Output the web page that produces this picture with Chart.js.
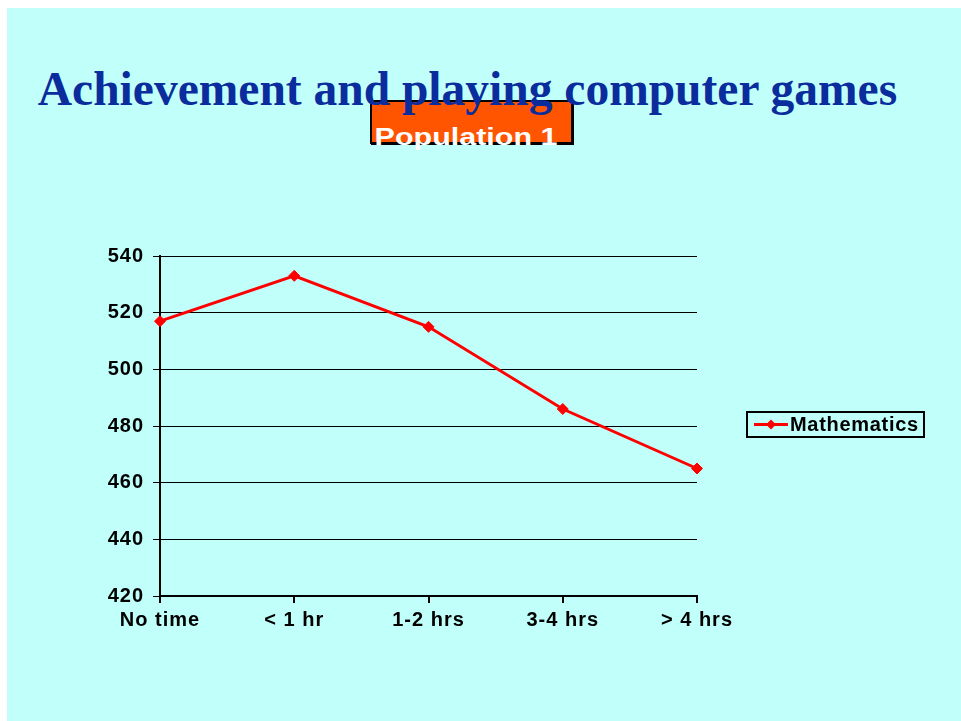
<!DOCTYPE html>
<html>
<head>
<meta charset="utf-8">
<script src="https://cdn.jsdelivr.net/npm/chart.js@4"></script>
<style>
  html, body { margin: 0; padding: 0; background: #ffffff; }
  #page { position: relative; width: 961px; height: 721px; overflow: hidden; background: #ffffff; }
  #bg { position: absolute; left: 7px; top: 8px; right: 0; bottom: 0; background: #c0fffa; }
  #box { position: absolute; left: 370px; top: 100px; width: 199px; height: 40px; background: #ff5500; border: 2px solid #000; box-shadow: 1px 1px 0 #000; }
  #title { position: absolute; left: 0; width: 935px; top: 65px; line-height: 48px; text-align: center; font-family: "Liberation Serif", "Times New Roman", serif; font-weight: bold; font-size: 47.5px; color: #0a2c9c; white-space: nowrap; }
  #sub { position: absolute; left: 366px; width: 200px; top: 125px; line-height: 24px; text-align: center; font-family: "Liberation Sans", Arial, sans-serif; font-weight: bold; font-size: 24px; color: #ffffff; white-space: nowrap; transform: scaleX(1.27); transform-origin: 50% 50%; }
  #c { position: absolute; left: 0; top: 0; }
</style>
</head>
<body>
<div id="page">
  <div id="bg"></div>
  <div id="box"></div>
  <div id="title">Achievement and playing computer games</div>
  <div id="sub">Population 1</div>
  <canvas id="c" width="961" height="721"></canvas>
</div>
<script>
const categories = ["No time", "< 1 hr", "1-2 hrs", "3-4 hrs", "> 4 hrs"];
const mathematics = [517, 533, 515, 486, 465];
const yTicks = [420, 440, 460, 480, 500, 520, 540];

const FONT = { family: "'Liberation Sans', Arial, sans-serif", size: 20, weight: 'bold' };

const spacingPlugin = {
  id: 'spacing',
  beforeLayout(chart) { chart.ctx.letterSpacing = '1px'; },
  beforeDraw(chart) { chart.ctx.letterSpacing = '1px'; }
};

const legendPlugin = {
  id: 'boxLegend',
  afterDraw(chart) {
    const ctx = chart.ctx;
    const ds = chart.data.datasets[0];
    const x = 747, y = 412, w = 177, h = 25;
    ctx.save();
    ctx.fillStyle = '#c0fffa';
    ctx.fillRect(x, y, w, h);
    ctx.strokeStyle = '#000';
    ctx.lineWidth = 2;
    ctx.strokeRect(x, y, w, h);
    const cy = y + h / 2;
    ctx.strokeStyle = ds.borderColor;
    ctx.lineWidth = 3;
    ctx.beginPath();
    ctx.moveTo(x + 7, cy);
    ctx.lineTo(x + 41, cy);
    ctx.stroke();
    ctx.fillStyle = ds.borderColor;
    ctx.beginPath();
    ctx.moveTo(x + 24, cy - 5);
    ctx.lineTo(x + 29, cy);
    ctx.lineTo(x + 24, cy + 5);
    ctx.lineTo(x + 19, cy);
    ctx.closePath();
    ctx.fill();
    ctx.fillStyle = '#000';
    ctx.letterSpacing = '0.7px';
    ctx.font = 'bold 20px "Liberation Sans", Arial, sans-serif';
    ctx.textBaseline = 'middle';
    ctx.fillText(ds.label, x + 43, cy + 1);
    ctx.restore();
  }
};

new Chart(document.getElementById('c'), {
  type: 'line',
  data: {
    labels: categories,
    datasets: [{
      label: 'Mathematics',
      data: mathematics,
      borderColor: '#ff0000',
      backgroundColor: '#ff0000',
      borderWidth: 3,
      pointStyle: 'rectRot',
      pointRadius: 5.5,
      pointBorderWidth: 1,
      tension: 0,
      clip: false
    }]
  },
  options: {
    responsive: false,
    animation: false,
    devicePixelRatio: 1,
    layout: { padding: { left: 0, right: 264, top: 256, bottom: 0 } },
    plugins: { legend: { display: false }, tooltip: { enabled: false }, title: { display: false } },
    scales: {
      x: {
        offset: false,
        grid: { display: true, drawOnChartArea: false, drawTicks: true, tickLength: 7, color: '#000', lineWidth: 2 },
        border: { display: true, color: '#000', width: 2 },
        ticks: { color: '#000', font: FONT, padding: 5, maxRotation: 0, autoSkip: false },
        afterFit(s) { s.height = 125; }
      },
      y: {
        min: 420, max: 540,
        afterBuildTicks(s) { s.ticks = yTicks.map(v => ({ value: v })); },
        grid: { color: '#000', lineWidth: 1, tickLength: 7, drawTicks: true },
        border: { display: true, color: '#000', width: 2 },
        ticks: { color: '#000', font: FONT, padding: 9 },
        afterFit(s) { s.width = 160; }
      }
    }
  },
  plugins: [spacingPlugin, legendPlugin]
});
</script>
</body>
</html>
